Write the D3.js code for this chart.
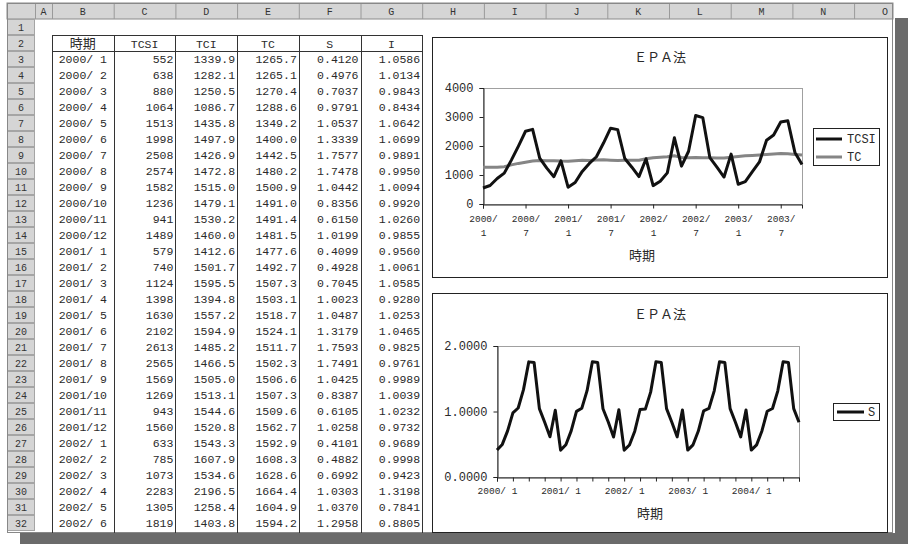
<!DOCTYPE html>
<html><head><meta charset="utf-8">
<script src="https://cdn.jsdelivr.net/npm/d3@7"></script>
<style>body{margin:0;background:#fff}svg{display:block}</style>
</head><body><svg id="c" width="908" height="544"></svg>
<script>
// ---------- DATA ----------
const colLetters = ["A","B","C","D","E","F","G","H","I","J","K","L","M","N","O"];
const tableHeaders = ["時期","TCSI","TCI","TC","S","I"];
const tablePeriods = ["2000/ 1","2000/ 2","2000/ 3","2000/ 4","2000/ 5","2000/ 6","2000/ 7","2000/ 8","2000/ 9","2000/10","2000/11","2000/12",
  "2001/ 1","2001/ 2","2001/ 3","2001/ 4","2001/ 5","2001/ 6","2001/ 7","2001/ 8","2001/ 9","2001/10","2001/11","2001/12",
  "2002/ 1","2002/ 2","2002/ 3","2002/ 4","2002/ 5","2002/ 6"];
const tableTCI = [1339.9,1282.1,1250.5,1086.7,1435.8,1497.9,1426.9,1472.8,1515.0,1479.1,1530.2,1460.0,
  1412.6,1501.7,1595.5,1394.8,1557.2,1594.9,1485.2,1466.5,1505.0,1513.1,1544.6,1520.8,
  1543.3,1607.9,1534.6,2196.5,1258.4,1403.8];
const tableI = [1.0586,1.0134,0.9843,0.8434,1.0642,1.0699,0.9891,0.9950,1.0094,0.9920,1.0260,0.9855,
  0.9560,1.0061,1.0585,0.9280,1.0253,1.0465,0.9825,0.9761,0.9989,1.0039,1.0232,0.9732,
  0.9689,0.9998,0.9423,1.3198,0.7841,0.8805];
// chart categories (monthly)
const months = ["2000/1","2000/2","2000/3","2000/4","2000/5","2000/6","2000/7","2000/8","2000/9","2000/10","2000/11","2000/12",
  "2001/1","2001/2","2001/3","2001/4","2001/5","2001/6","2001/7","2001/8","2001/9","2001/10","2001/11","2001/12",
  "2002/1","2002/2","2002/3","2002/4","2002/5","2002/6","2002/7","2002/8","2002/9","2002/10","2002/11","2002/12",
  "2003/1","2003/2","2003/3","2003/4","2003/5","2003/6","2003/7","2003/8","2003/9","2003/10","2003/11","2003/12",
  "2004/1","2004/2","2004/3","2004/4","2004/5","2004/6","2004/7","2004/8","2004/9","2004/10"];
// series (first 30 values as in the table, the rest)
const tcsi = [552,638,880,1064,1513,1998,2508,2574,1582,1236,941,1489,
  579,740,1124,1398,1630,2102,2613,2565,1569,1269,943,1560,
  633,785,1073,2283,1305,1819,3050,2980,1600,1270,930,1720,
  680,770,1120,1450,2200,2380,2830,2870,1780,1360];
const tc = [1265.7,1265.1,1270.4,1288.6,1349.2,1400.0,1442.5,1480.2,1500.9,1491.0,1491.4,1481.5,
  1477.6,1492.7,1507.3,1503.1,1518.7,1524.1,1511.7,1502.3,1506.6,1507.3,1509.6,1562.7,
  1592.9,1608.3,1628.6,1664.4,1604.9,1594.2,1600,1598,1592,1585,1590,1615,
  1640,1660,1675,1690,1705,1725,1745,1730,1710,1690];
const s = [0.4120,0.4976,0.7037,0.9791,1.0537,1.3339,1.7577,1.7478,1.0442,0.8356,0.6150,1.0199,
  0.4099,0.4928,0.7045,1.0023,1.0487,1.3179,1.7593,1.7491,1.0425,0.8387,0.6105,1.0258,
  0.4101,0.4882,0.6992,1.0303,1.0370,1.2958,1.7589,1.7475,1.0438,0.8362,0.6128,1.0231,
  0.4108,0.4911,0.7021,1.0105,1.0463,1.3152,1.7583,1.7482,1.0436,0.8370,0.6126,1.0230,
  0.4107,0.4905,0.7025,1.0040,1.0465,1.3157,1.7586,1.7483,1.0436,0.8370];
const yTicks1 = [0,1000,2000,3000,4000];
const yTicks2 = [0,1,2];
const title = "ＥＰＡ法";
const xTitle = "時期";
const legend1 = ["TCSI","TC"];
const legend2 = ["S"];

// ---------- DRAW ----------
const svg = d3.select("#c");
const mono = "'Liberation Mono','DejaVu Sans Mono',monospace";
const cjk = "'Noto Sans CJK JP','Noto Sans CJK SC',sans-serif";
const ink = "#2a2a2a";

// shadow
svg.append("rect").attr("x",895).attr("y",18).attr("width",13).attr("height",526).attr("fill","#6b6b6b");
svg.append("rect").attr("x",20).attr("y",533).attr("width",888).attr("height",11).attr("fill","#6b6b6b");
// sheet
const sheetL=7, sheetR=893, sheetT=3, sheetB=533, hdrH=16, rowH=16, rowHdrR=35;
svg.append("rect").attr("x",sheetL).attr("y",sheetT).attr("width",sheetR-sheetL).attr("height",sheetB-sheetT)
  .attr("fill","#fff");
// column edges
const colEdges = [35,52];
for (let k=1;k<colLetters.length;k++) colEdges.push(52+k*61.7);
const hdr = svg.append("g");
hdr.append("rect").attr("x",sheetL).attr("y",sheetT).attr("width",sheetR-sheetL).attr("height",hdrH)
  .attr("fill","#d5d5d5").attr("stroke","#8a8a8a").attr("stroke-width",1);
colLetters.forEach((c,k)=>{
  const x0=colEdges[k], x1=Math.min(colEdges[k+1], sheetR);
  hdr.append("line").attr("x1",x0+0.5).attr("x2",x0+0.5).attr("y1",sheetT).attr("y2",sheetT+hdrH).attr("stroke","#9a9a9a");
  hdr.append("text").attr("x",(colEdges[k]+colEdges[k+1])/2).attr("y",sheetT+12)
    .attr("text-anchor","middle").attr("font-family",mono).attr("font-size",10).attr("fill","#333").text(c);
});
// row headers
for (let r=1;r<=32;r++){
  const y0 = sheetT+hdrH+(r-1)*rowH;
  const h = Math.min(rowH, sheetB-y0);
  hdr.append("rect").attr("x",sheetL+0.5).attr("y",y0+0.5).attr("width",rowHdrR-sheetL-1).attr("height",h-1)
    .attr("fill","#d5d5d5").attr("stroke","#a5a5a5");
  hdr.append("text").attr("x",(sheetL+rowHdrR)/2).attr("y",y0+12).attr("text-anchor","middle")
    .attr("font-family",mono).attr("font-size",10).attr("fill","#333").text(r);
}
svg.append("rect").attr("x",sheetL+0.5).attr("y",sheetT+0.5).attr("width",sheetR-sheetL-1).attr("height",sheetB-sheetT-1)
  .attr("fill","none").attr("stroke","#888");

// table
const tbl = svg.append("g");
const tTop = sheetT+hdrH+rowH; // row 2 top
const tBot = sheetB;
const tCols = colEdges.slice(1,8); // B..G edges (7 edges)
tCols.forEach(x=>tbl.append("line").attr("x1",Math.round(x)+0.5).attr("x2",Math.round(x)+0.5)
  .attr("y1",tTop).attr("y2",tBot).attr("stroke","#333"));
tbl.append("line").attr("x1",tCols[0]).attr("x2",tCols[6]).attr("y1",tTop+0.5).attr("y2",tTop+0.5).attr("stroke","#333");
tbl.append("line").attr("x1",tCols[0]).attr("x2",tCols[6]).attr("y1",tTop+rowH+0.5).attr("y2",tTop+rowH+0.5).attr("stroke","#333");
tableHeaders.forEach((h,k)=>{
  tbl.append("text").attr("x",(tCols[k]+tCols[k+1])/2).attr("y",tTop+13).attr("text-anchor","middle")
    .attr("font-family", k===0?cjk:mono).attr("font-size",k===0?13:11.5).attr("fill",ink).text(h);
});
const f0=d3.format("d"), f1=d3.format(".1f"), f4=d3.format(".4f");
tablePeriods.forEach((p,i)=>{
  const yb = tTop+rowH*(i+1)+12;
  const vals = [f0(tcsi[i]), f1(tableTCI[i]), f1(tc[i]), f4(s[i]), f4(tableI[i])];
  tbl.append("text").attr("x",(tCols[0]+tCols[1])/2).attr("y",yb).attr("text-anchor","middle")
    .attr("font-family",mono).attr("font-size",11.5).attr("fill",ink).attr("xml:space","preserve")
    .style("white-space","pre").text(p);
  vals.forEach((v,k)=>{
    tbl.append("text").attr("x",tCols[k+2]-2).attr("y",yb).attr("text-anchor","end")
      .attr("font-family",mono).attr("font-size",11.5).attr("fill",ink).text(v);
  });
});

// ---------- CHART 1 ----------
function frame(x0,y0,x1,y1){
  svg.append("rect").attr("x",x0+0.5).attr("y",y0+0.5).attr("width",x1-x0).attr("height",y1-y0)
    .attr("fill","#fff").attr("stroke","#222").attr("stroke-width",1);
}
frame(432,37,887,277);
const c1 = svg.append("g");
const p1 = {l:483,r:802,t:88,b:204};
const x1 = d3.scalePoint().domain(d3.range(tcsi.length)).range([p1.l,p1.r]);
const y1 = d3.scaleLinear().domain([0,4000]).range([p1.b,p1.t]);
c1.append("rect").attr("x",p1.l+0.5).attr("y",p1.t+0.5).attr("width",p1.r-p1.l).attr("height",p1.b-p1.t)
  .attr("fill","none").attr("stroke","#a0a0a0");
c1.append("text").attr("x",660).attr("y",62).attr("text-anchor","middle").attr("font-family",cjk)
  .attr("font-size",13).attr("fill",ink).text(title);
const ax1 = c1.append("g").attr("transform",`translate(${p1.l+0.5},0)`)
  .call(d3.axisLeft(y1).tickValues(yTicks1).tickSize(4).tickPadding(6).tickFormat(d3.format("d")));
const bx1 = c1.append("g").attr("transform",`translate(0,${p1.b+0.5})`)
  .call(d3.axisBottom(x1).tickValues(d3.range(0,tcsi.length,6)).tickSize(4).tickPadding(5).tickFormat(i=>months[i]));
[ax1,bx1].forEach(a=>{a.select(".domain").attr("stroke","#222");a.selectAll(".tick line").attr("stroke","#222");});
ax1.selectAll("text").attr("font-family",mono).attr("font-size",12).attr("fill",ink);
bx1.selectAll(".tick text").each(function(i){
  const parts = months[i].split("/");
  const t = d3.select(this).text(null).attr("font-family",mono).attr("font-size",9.5).attr("fill",ink);
  t.append("tspan").attr("x",0).attr("dy","0.9em").text(parts[0]+"/");
  t.append("tspan").attr("x",0).attr("dy","1.45em").text(parts[1]);
});
c1.append("text").attr("x",642).attr("y",260).attr("text-anchor","middle").attr("font-family",cjk)
  .attr("font-size",13).attr("fill",ink).text(xTitle);
const line1 = d3.line().x((d,i)=>x1(i)).y(d=>y1(d));
c1.append("path").datum(tc).attr("d",line1).attr("fill","none").attr("stroke","#858585").attr("stroke-width",3).attr("stroke-linejoin","round");
c1.append("path").datum(tcsi).attr("d",line1).attr("fill","none").attr("stroke","#111").attr("stroke-width",3).attr("stroke-linejoin","round");
// legend 1
const lg1 = c1.append("g");
lg1.append("rect").attr("x",813.5).attr("y",128.5).attr("width",66).attr("height",37).attr("fill","#fff").attr("stroke","#222");
const lgColors1 = ["#111","#858585"];
legend1.forEach((n,k)=>{
  const yy = 139+k*18;
  lg1.append("line").attr("x1",816).attr("x2",842).attr("y1",yy).attr("y2",yy).attr("stroke",lgColors1[k]).attr("stroke-width",3);
  lg1.append("text").attr("x",847).attr("y",yy+4).attr("font-family",mono).attr("font-size",12).attr("fill",ink).text(n);
});

// ---------- CHART 2 ----------
frame(432,293,887,532);
const c2 = svg.append("g");
const p2 = {l:497,r:799,t:346,b:477};
const x2 = d3.scalePoint().domain(d3.range(s.length)).range([p2.l,p2.r]);
const y2 = d3.scaleLinear().domain([0,2]).range([p2.b,p2.t]);
c2.append("rect").attr("x",p2.l+0.5).attr("y",p2.t+0.5).attr("width",p2.r-p2.l).attr("height",p2.b-p2.t)
  .attr("fill","none").attr("stroke","#a0a0a0");
c2.append("text").attr("x",660).attr("y",319).attr("text-anchor","middle").attr("font-family",cjk)
  .attr("font-size",13).attr("fill",ink).text(title);
const ax2 = c2.append("g").attr("transform",`translate(${p2.l+0.5},0)`)
  .call(d3.axisLeft(y2).tickValues(yTicks2).tickSize(4).tickPadding(6).tickFormat(d3.format(".4f")));
const bx2 = c2.append("g").attr("transform",`translate(0,${p2.b+0.5})`)
  .call(d3.axisBottom(x2).tickValues(d3.range(0,s.length,3)).tickSize(4).tickPadding(6)
    .tickFormat(i=> i%12===0 ? months[i].replace("/","/ ") : ""));
[ax2,bx2].forEach(a=>{a.select(".domain").attr("stroke","#222");a.selectAll(".tick line").attr("stroke","#222");});
ax2.selectAll("text").attr("font-family",mono).attr("font-size",12).attr("fill",ink);
bx2.selectAll("text").attr("font-family",mono).attr("font-size",9.5).attr("fill",ink).style("white-space","pre");
c2.append("text").attr("x",650).attr("y",518).attr("text-anchor","middle").attr("font-family",cjk)
  .attr("font-size",13).attr("fill",ink).text(xTitle);
const line2 = d3.line().x((d,i)=>x2(i)).y(d=>y2(d));
c2.append("path").datum(s).attr("d",line2).attr("fill","none").attr("stroke","#111").attr("stroke-width",3).attr("stroke-linejoin","round");
const lg2 = c2.append("g");
lg2.append("rect").attr("x",833.5).attr("y",403.5).attr("width",46).attr("height",17).attr("fill","#fff").attr("stroke","#222");
legend2.forEach((n,k)=>{
  lg2.append("line").attr("x1",837).attr("x2",864).attr("y1",412).attr("y2",412).attr("stroke","#111").attr("stroke-width",3);
  lg2.append("text").attr("x",868).attr("y",416).attr("font-family",mono).attr("font-size",12).attr("fill",ink).text(n);
});
</script>
</body></html>
